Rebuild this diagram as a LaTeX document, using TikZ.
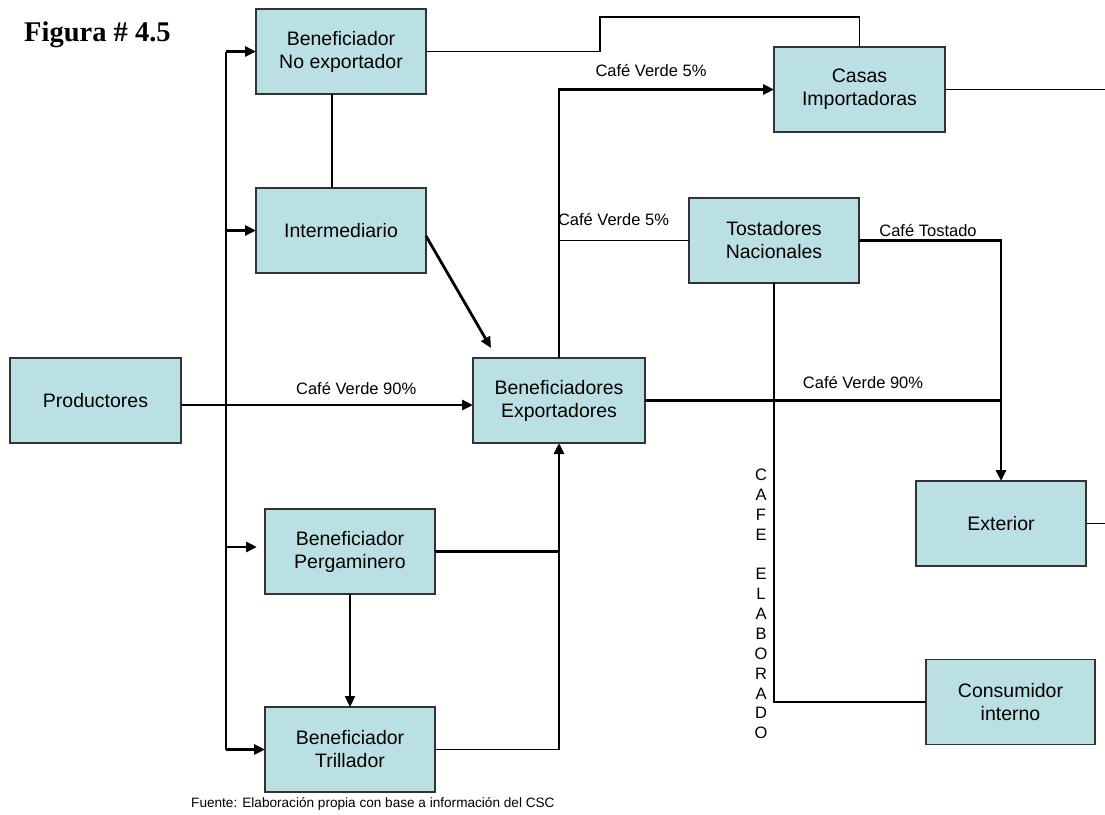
\documentclass[tikz,border=0pt]{standalone}
\usepackage{fontspec}
\setmainfont{Liberation Sans}
\newfontfamily\titlefont{Liberation Serif}
\usetikzlibrary{arrows.meta}

\definecolor{boxfill}{HTML}{BBE0E3}
\definecolor{boxline}{HTML}{333333}

\begin{document}
\begin{tikzpicture}[x=1pt,y=-1pt,
  box/.style={draw=boxline, line width=1.4pt, fill=boxfill,
    minimum width=170pt, minimum height=85pt, inner sep=0pt, outer sep=0pt,
    align=center, font=\fontsize{19.5}{23}\selectfont},
  thinline/.style={line width=1.2pt, draw=black},
  heavy/.style={line width=2.8pt, draw=black},
  tip/.style={-{Triangle[length=11pt,width=10pt]}},
  lbl/.style={font=\fontsize{16.5}{19}\selectfont, inner sep=0pt},
]
\useasboundingbox (0,0) rectangle (1105,814);
\fill[white] (0,0) rectangle (1105,814);

% title
\node[anchor=base west, inner sep=0pt, font=\titlefont\bfseries\fontsize{28.5}{30}\selectfont]
  (title) at (24,41) {Figura \# 4.5};

% boxes
\node[box] (bne)   at (341,51.5)   {Beneficiador\\No exportador};
\node[box] (inter) at (341,230.5)  {Intermediario};
\node[box, minimum width=171pt] (prod) at (95.5,400.5) {Productores};
\node[box, minimum width=172pt] (bexp) at (559,400.5) {Beneficiadores\\Exportadores};
\node[box, minimum width=171pt] (casas) at (859.5,89.5) {Casas\\Importadoras};
\node[box] (tost)  at (774,240.5)  {Tostadores\\Nacionales};
\node[box] (ext)   at (1001,523.5) {Exterior};
\node[box, minimum width=169pt] (cons) at (1010.5,702) {Consumidor\\interno};
\node[box] (perg)  at (350,551.5)  {Beneficiador\\Pergaminero};
\node[box] (trill) at (350,749.5)  {Beneficiador\\Trillador};

% helper points
\coordinate (trunk) at (226,0);
\coordinate (pgtip) at (257,547);
\coordinate (ditip) at (491,348);
\coordinate (redge) at (1105,0);

% distribution trunk from the producers
\draw[heavy] (trunk |- bne.west) -- (trunk |- trill.west);
\draw[heavy,tip] (trunk |- bne.west) -- (bne.west);
\draw[heavy,tip] (trunk |- inter.west) -- (inter.west);
\draw[heavy,tip] (trunk |- pgtip) -- (pgtip);
\draw[heavy,tip] (trunk |- trill.west) -- (trill.west);

% producers to exporters
\draw[heavy,tip] ([yshift=-4.5pt]prod.east) -- ([yshift=-4.5pt]bexp.west)
  node[lbl, pos=0.6, above=9pt] (l90a) {Café Verde 90\%};

% intermediary to exporters
\draw[heavy,tip] ([yshift=-5.5pt]inter.east) -- (ditip);

% link between non-exporter and intermediary
\draw[thinline] ([xshift=-9pt]bne.south) -- ([xshift=-9pt]inter.north);

% non-exporter to importing houses
\draw[thinline] (bne.east) -- ++(174,0) |- ([yshift=30pt]casas.north) -- (casas.north);

% exporters to importing houses
\draw[heavy,tip] (bexp.north) |- (casas.west);
\node[lbl] (l5a) at (651,71) {Café Verde 5\%};

% exporters to national roasters
\draw[thinline] (bexp.north |- tost.west) -- (tost.west);
\node[lbl] (l5b) at (613.5,220) {Café Verde 5\%};

% roasted coffee abroad
\draw[heavy,tip] (tost.east) -| (ext.north);
\node[lbl] (ltos) at (928,231) {Café Tostado};

% exporters abroad
\draw[heavy] (bexp.east) -- (ext.north |- bexp.east);
\node[lbl] (l90b) at (863,382) {Café Verde 90\%};

% roasters to domestic consumers
\draw[thinline] (tost.south) |- (cons.west);
\node[inner sep=0pt, align=center, font=\fontsize{16.5}{19.85}\selectfont]
  (elab) at (761,604) {C\\A\\F\\E\\[19.85pt]E\\L\\A\\B\\O\\R\\A\\D\\O};

% outgoing lines at the right edge
\draw[thinline] (casas.east) -- (casas.east -| redge);
\draw[thinline] (ext.east) -- (ext.east -| redge);

% wet and dry mills
\draw[heavy,tip] (perg.east) -| (bexp.south);
\draw[thinline] (trill.east) -| (bexp.south |- perg.east);
\draw[line width=2.2pt, draw=black, tip] (perg.south) -- (trill.north);

% source note
\node[anchor=west, inner sep=0pt, font=\fontsize{13.6}{16}\selectfont]
  (src) at (191,804) {Fuente: Elaboración propia con base a información del CSC};
\end{tikzpicture}
\end{document}
